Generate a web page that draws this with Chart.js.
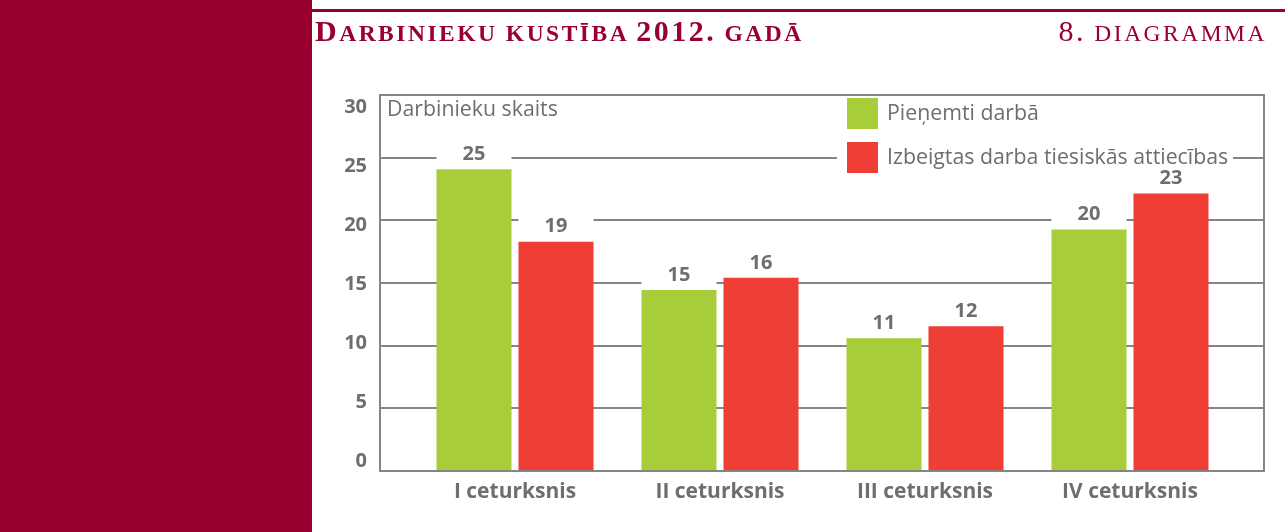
<!DOCTYPE html>
<html>
<head>
<meta charset="utf-8">
<script src="https://cdn.jsdelivr.net/npm/chart.js@4.4.0/dist/chart.umd.min.js"></script>
<style>
  html, body { margin: 0; padding: 0; background: #fff; }
  #wrap { position: relative; width: 1285px; height: 532px; overflow: hidden; }
  #side { position: absolute; left: 0; top: 0; width: 312px; height: 532px; background: #990030; }
  #topline { position: absolute; left: 312px; top: 9px; width: 973px; height: 3px; background: #990030; }
  .head { position: absolute; top: 13px; font-family: "Liberation Serif", serif; color: #990030;
          white-space: nowrap; line-height: 36px; letter-spacing: 2.5px; }
  .head .big { font-size: 30px; }
  .head .sc { font-size: 23.5px; text-transform: uppercase; }
  #title { left: 315px; font-weight: bold; }
  #num { right: 18px; }
  canvas { position: absolute; left: 0; top: 0; }
</style>
</head>
<body>
<div id="wrap">
  <div id="side"></div>
  <div id="topline"></div>
  <canvas id="chart" width="1285" height="532"></canvas>
  <div class="head" id="title"><span class="big">D</span><span class="sc">arbinieku kustība </span><span class="big">2012.</span><span class="sc"> gadā</span></div>
  <div class="head" id="num"><span class="big">8.</span><span class="sc"> diagramma</span></div>
</div>
<script>
// data
const categories = ['I ceturksnis', 'II ceturksnis', 'III ceturksnis', 'IV ceturksnis'];
const seriesNames = ['Pieņemti darbā', 'Izbeigtas darba tiesiskās attiecības'];
const hired = [25, 15, 11, 20];
const ended = [19, 16, 12, 23];
const yTicks = [0, 5, 10, 15, 20, 25, 30];
const axisTitle = 'Darbinieku skaits';

const GREEN = '#a8cd3a';
const RED = '#ef3e36';
const GREY = '#6d6e71';
const LINE = '#858585';
const FONT = '"Open Sans"';

// legend, axis title, value labels, frame
const overlay = {
    id: 'overlay',
    afterDatasetsDraw(chart) {
        const ctx = chart.ctx;
        const a = chart.chartArea;
        ctx.save();

        ctx.fillStyle = GREY;
        ctx.font = '21.3px ' + FONT;
        ctx.textBaseline = 'middle';
        ctx.textAlign = 'left';
        ctx.fillText(axisTitle, a.left + 7, a.top + 15);

        // legend box
        ctx.fillStyle = '#fff';
        ctx.fillRect(a.left + 457, a.top + 2, 396, 80);
        chart.data.datasets.forEach((ds, i) => {
            const y = a.top + 3 + i * 44;
            ctx.fillStyle = ds.backgroundColor;
            ctx.fillRect(a.left + 467, y, 31, 31);
            ctx.fillStyle = GREY;
            ctx.fillText(ds.label, a.left + 507, y + 16);
        });

        // value labels
        ctx.font = 'bold 20px ' + FONT;
        ctx.textAlign = 'center';
        chart.data.datasets.forEach((ds, i) => {
            chart.getDatasetMeta(i).data.forEach((bar, j) => {
                const cy = bar.y - 15;
                ctx.fillStyle = '#fff';
                ctx.fillRect(bar.x - bar.width / 2, cy - 12, bar.width, 23);
                ctx.fillStyle = GREY;
                ctx.fillText(String(ds.data[j].y), bar.x, cy);
            });
        });

        // frame
        ctx.strokeStyle = LINE;
        ctx.lineWidth = 2;
        ctx.strokeRect(a.left, a.top, a.right - a.left, a.bottom - a.top);
        ctx.restore();
    }
};

Chart.defaults.font.family = FONT;

function draw() {
    new Chart(document.getElementById('chart'), {
        type: 'bar',
        data: {
            datasets: [
                { label: seriesNames[0], data: hired.map((v, i) => ({ x: i, y: v })), backgroundColor: GREEN, yAxisID: 'yb' },
                { label: seriesNames[1], data: ended.map((v, i) => ({ x: i, y: v })), backgroundColor: RED, yAxisID: 'yb' }
            ]
        },
        options: {
            responsive: false,
            animation: false,
            devicePixelRatio: 1,
            categoryPercentage: 0.8,
            barPercentage: 0.915,
            layout: { padding: { left: 312, top: 95, right: 21, bottom: 0 } },
            plugins: { legend: { display: false }, tooltip: { enabled: false } },
            scales: {
                x: {
                    type: 'linear',
                    min: -0.6585,
                    max: 3.6537,
                    offset: false,
                    grid: { display: false, drawTicks: false },
                    border: { display: false },
                    afterBuildTicks: ax => { ax.ticks = categories.map((c, i) => ({ value: i })); },
                    afterFit: ax => { ax.height = 61; },
                    ticks: {
                        padding: 8,
                        color: GREY,
                        font: { size: 21, weight: 'bold' },
                        maxRotation: 0,
                        autoSkip: false,
                        callback: v => categories[v]
                    }
                },
                yb: { type: 'linear', position: 'left', min: 0, max: 31.15, display: false },
                y: {
                    type: 'linear',
                    position: 'left',
                    min: 0,
                    max: 30,
                    ticks: { display: false, stepSize: 5 },
                    grid: { color: LINE, lineWidth: 2, drawTicks: false },
                    border: { display: false },
                    afterFit: ax => { ax.width = 0; }
                },
                yl: {
                    type: 'linear',
                    position: 'left',
                    min: -0.85,
                    max: 31.02,
                    grid: { display: false, drawTicks: false },
                    border: { display: false },
                    afterBuildTicks: ax => { ax.ticks = yTicks.map(v => ({ value: v })); },
                    afterFit: ax => { ax.width = 68; },
                    ticks: { padding: 13, color: GREY, font: { size: 20, weight: 'bold' } }
                }
            }
        },
        plugins: [overlay]
    });
}

document.fonts.load('bold 20px "Open Sans"').then(() => document.fonts.load('20px "Open Sans"')).then(draw, draw);
</script>
</body>
</html>
